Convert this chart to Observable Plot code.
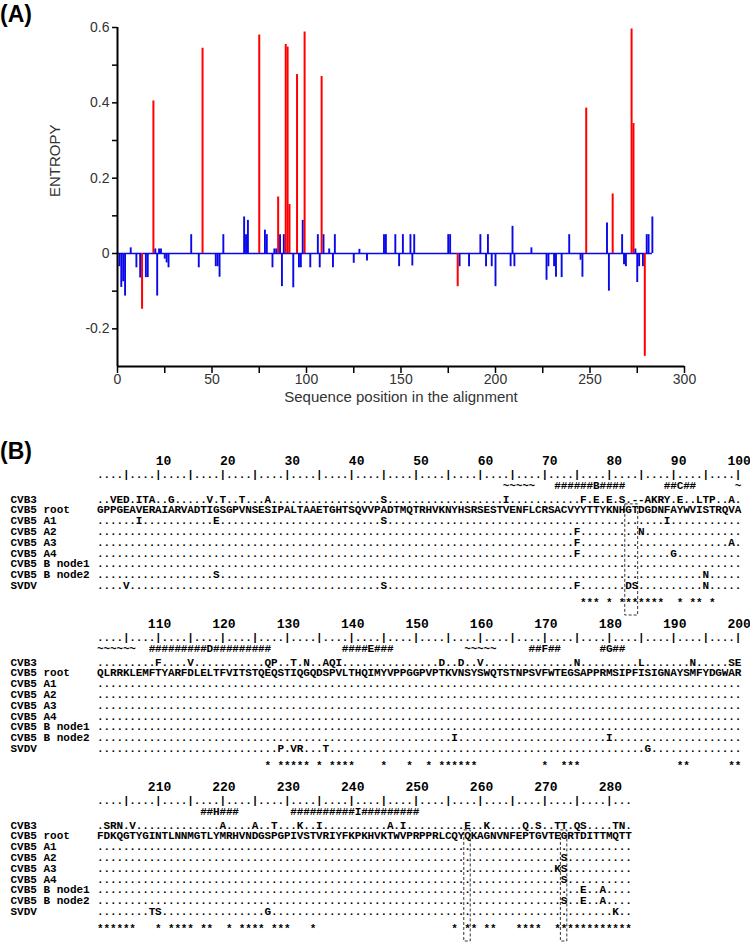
<!DOCTYPE html>
<html><head><meta charset="utf-8">
<script src="https://cdn.jsdelivr.net/npm/d3@7"></script>
<script src="https://cdn.jsdelivr.net/npm/@observablehq/plot@0.6"></script>
<style>
body{margin:0;background:#fff;}
#wrap{position:relative;width:750px;height:946px;overflow:hidden;background:#fff;}
#wrap svg{display:block;}
.panel{position:absolute;left:0;font-family:"Liberation Sans",Arial,sans-serif;font-weight:bold;font-size:23px;line-height:25px;color:#000;}
</style></head><body><div id="wrap"></div>
<script>
// ---------------- Panel A data ----------------
const seqLength = 283;
const xTickLabels = [0, 50, 100, 150, 200, 250, 300];
const xMinorTicks = [25, 75, 125, 175, 225, 275];
const yTickLabels = [-0.2, 0, 0.2, 0.4, 0.6];
const yMinorTicks = [-0.1, 0.1, 0.3, 0.5];

const bluePositions = [
  1, 2, 3, 4, 7, 10, 12, 15, 16, 20,
  21, 22, 23, 25, 26, 27, 39, 43, 52, 53,
  54, 56, 67, 68, 69, 78, 79, 82, 83, 84,
  86, 87, 88, 93, 96, 97, 98, 102, 106, 107,
  109, 112, 114, 115, 125, 128, 132, 141, 142, 147,
  149, 151, 155, 156, 157, 175, 176, 181, 186, 192,
  195, 196, 198, 200, 208, 209, 210, 219, 227, 228,
  231, 232, 235, 239, 245, 246, 259, 260, 267, 268,
  269, 274, 275, 276, 278, 280, 281, 283
];
const blueEntropy = [
  -0.035, -0.09, -0.075, -0.113, 0.015, -0.038, -0.065, -0.064, -0.064, 0.012,
  -0.113, 0.012, 0.012, -0.015, -0.025, -0.038, 0.05, -0.038, -0.035, -0.035,
  -0.063, 0.05, 0.097, 0.05, 0.088, 0.062, 0.05, -0.038, 0.012, 0.012,
  0.05, -0.088, 0.05, -0.091, -0.038, -0.038, 0.088, -0.038, 0.05, -0.038,
  0.05, 0.012, -0.038, 0.05, -0.026, 0.011, -0.02, 0.05, 0.05, 0.05,
  -0.035, 0.05, 0.05, -0.033, 0.05, 0.05, 0.05, -0.035, -0.035, 0.05,
  -0.035, 0.05, -0.035, -0.088, -0.035, 0.072, -0.035, 0.015, -0.071, -0.035,
  -0.035, -0.063, -0.064, 0.05, -0.018, -0.063, 0.081, -0.1, 0.05, -0.03,
  -0.035, 0.012, -0.077, -0.035, -0.035, 0.05, 0.05, 0.097
];
const redPositions = [13, 19, 45, 75, 85, 89, 90, 91, 95, 99, 108, 180, 248, 262, 272, 273, 279];
const redEntropy = [-0.148, 0.405, 0.545, 0.58, 0.15, 0.555, 0.548, 0.13, 0.475, 0.588, 0.47, -0.088, 0.386, 0.158, 0.596, 0.345, -0.273];

// ---------------- Panel B data ----------------
const sequenceNames = ["CVB3", "CVB5 root", "CVB5 A1", "CVB5 A2", "CVB5 A3", "CVB5 A4", "CVB5 B node1", "CVB5 B node2", "SVDV"];
const rootChunks = [
  "GPPGEAVERA","IARVADTIGS","GPVNSESIPA","LTAAETGHTS","QVVPADTMQT","RHVKNYHSRS","ESTVENFLCR","SACVYYTTYK","NHGTDGDNFA","YWVISTRQVA",
  "QLRRKLEMFT","YARFDLELTF","VITSTQEQST","IQGQDSPVLT","HQIMYVPPGG","PVPTKVNSYS","WQTSTNPSVF","WTEGSAPPRM","SIPFISIGNA","YSMFYDGWAR",
  "FDKQGTYGIN","TLNNMGTLYM","RHVNDGSPGP","IVSTVRIYFK","PKHVKTWVPR","PPRLCQYQKA","GNVNFEPTGV","TEGRTDITTM","QTT"
];
const cvb3Changes = [[3,"V"],[4,"E"],[5,"D"],[7,"I"],[8,"T"],[9,"A"],[12,"G"],[18,"V"],[20,"T"],[23,"T"],[27,"A"],[45,"S"],[64,"I"],
  [76,"F"],[78,"E"],[80,"E"],[82,"S"],[84,"-"],[85,"-"],[86,"A"],[87,"K"],[88,"R"],[89,"Y"],[91,"E"],[94,"L"],[95,"T"],[96,"P"],[99,"A"],
  [110,"F"],[115,"V"],[127,"Q"],[128,"P"],[131,"T"],[133,"N"],[136,"A"],[137,"Q"],[138,"I"],[154,"D"],[157,"D"],[160,"V"],[175,"N"],[185,"L"],[193,"N"],[199,"S"],[200,"E"],
  [202,"S"],[203,"R"],[204,"N"],[206,"V"],[220,"A"],[225,"A"],[228,"T"],[232,"K"],[235,"I"],[246,"A"],[248,"I"],[258,"E"],[261,"K"],[267,"Q"],[269,"S"],[272,"T"],[273,"T"],[275,"Q"],[276,"S"],[281,"T"],[282,"N"]];
const a1Changes = [[7,"I"],[19,"E"],[45,"S"],[89,"I"]];
const a2Changes = [[75,"F"],[85,"N"],[273,"S"]];
const a3Changes = [[75,"F"],[99,"A"],[272,"K"],[273,"S"]];
const a4Changes = [[75,"F"],[90,"G"],[273,"S"]];
const node1Changes = [[276,"E"],[279,"A"]];
const node2Changes = [[19,"S"],[95,"N"],[156,"I"],[180,"I"],[273,"S"],[276,"E"],[279,"A"]];
const svdvChanges = [[5,"V"],[45,"S"],[75,"F"],[83,"D"],[84,"S"],[95,"N"],[129,"P"],[131,"V"],[132,"R"],[136,"T"],[186,"G"],[209,"T"],[210,"S"],[227,"G"],[281,"K"]];
const secondaryStructure = [[64,"~~~~~"],[72,"######B####"],[89,"##C##"],[100,"~~~~~~~"],[109,"#########D#########"],[139,"####E###"],
  [158,"~~~~~"],[168,"##F##"],[179,"#G##"],[217,"##H###"],[231,"##########I#########"]];
const starPositions = [76,77,78,80,82,83,84,85,86,87,88,91,93,94,96,
  127,129,130,131,132,133,135,137,138,139,140,145,149,152,154,155,156,157,158,159,170,173,174,175,191,192,199,200,
  201,202,203,204,205,206,210,212,213,214,215,217,218,221,223,224,225,226,228,229,230,234,
  256,258,259,261,262,266,267,268,269,272,273,274,275,276,277,278,279,280,281,282,283];
const rulerLabels = [10,20,30,40,50,60,70,80,90,100,110,120,130,140,150,160,170,180,190,200,210,220,230,240,250,260,270,280];
const boxedSites = [[83,84],[258,258],[273,273]];

// ---------------- Panel A ----------------
const blueData = bluePositions.map((p, i) => ({pos: p, entropy: blueEntropy[i]}));
const redData = redPositions.map((p, i) => ({pos: p, entropy: redEntropy[i]}));
const BLUE = "#0808e8", RED = "#ff0000";
const HA = 410;

const plotA = Plot.plot({
  width: 750, height: HA,
  marginLeft: 117, marginRight: 66, marginTop: 27, marginBottom: HA - 366,
  style: {fontFamily: "'Liberation Sans', Arial, sans-serif", background: "white", overflow: "visible"},
  x: {domain: [0, 300]},
  y: {domain: [-0.3, 0.6]},
  marks: [
    Plot.ruleY([0], {x1: 0, x2: seqLength, stroke: BLUE, strokeWidth: 1.6}),
    Plot.ruleX(blueData, {x: "pos", y1: 0, y2: "entropy", stroke: BLUE, strokeWidth: 1.9}),
    Plot.ruleX(redData, {x: "pos", y1: 0, y2: "entropy", stroke: RED, strokeWidth: 2}),
    Plot.axisY({ticks: yTickLabels, tickFormat: d => d === 0 ? "0" : d.toFixed(1), tickSize: 5, tickPadding: 3, fontSize: 14, fill: "#333", stroke: "#000", strokeWidth: 1.5, label: null}),
    Plot.axisY({ticks: yMinorTicks, tickFormat: () => "", tickSize: 5, stroke: "#000", strokeWidth: 1.5, label: null}),
    Plot.axisX({ticks: xTickLabels, tickSize: 7, tickPadding: 1, fontSize: 14, fill: "#333", stroke: "#000", strokeWidth: 1.5, label: null}),
    Plot.axisX({ticks: xMinorTicks, tickFormat: () => "", tickSize: 7, stroke: "#000", strokeWidth: 1.5, label: null}),
    Plot.ruleX([0], {stroke: "#000", strokeWidth: 2}),
    Plot.ruleY([-0.3], {stroke: "#000", strokeWidth: 2}),
    Plot.text(["ENTROPY"], {text: d => d, frameAnchor: "left", rotate: -90, dx: -62, fontSize: 15, fill: "#333"}),
    Plot.text(["Sequence position in the alignment"], {text: d => d, frameAnchor: "bottom", dy: 35, fontSize: 15, fill: "#333"})
  ]
});

// ---------------- Panel B ----------------
const HB = 946 - HA;
const blockTop0 = 460 - HA, blockStep = 163;
const off = {numbers: 0, ruler: 13.5, sec: 24.5, seq0: 38.5, seqStep: 10.8, stars: 142, boxTop: 43.9, boxBottom: 155};
const blockOf = p => Math.floor((p - 1) / 100);
const colOf = p => p - 100 * blockOf(p);
const yAt = (b, o) => blockTop0 + b * blockStep + o;
const rootSequence = rootChunks.join("");
const changeSets = [cvb3Changes, null, a1Changes, a2Changes, a3Changes, a4Changes, node1Changes, node2Changes, svdvChanges];

const cells = [];
for (let p = 1; p <= seqLength; p++) {
  const b = blockOf(p), c = colOf(p);
  cells.push({col: c, y: yAt(b, off.ruler), ch: p % 5 === 0 ? "|" : "."});
  changeSets.forEach((cs, i) => {
    let ch;
    if (cs === null) ch = rootSequence[p - 1];
    else { const m = new Map(cs); ch = m.has(p) ? m.get(p) : "."; }
    cells.push({col: c, y: yAt(b, off.seq0 + off.seqStep * i), ch});
  });
}
for (const [start, str] of secondaryStructure) {
  [...str].forEach((ch, k) => {
    const p = start + k;
    cells.push({col: colOf(p), y: yAt(blockOf(p), off.sec), ch});
  });
}
for (const p of starPositions) cells.push({col: colOf(p), y: yAt(blockOf(p), off.stars), ch: "*"});

const numberCells = rulerLabels.map(n => ({x: colOf(n) + 2, y: yAt(blockOf(n), off.numbers), label: String(n)}));
const nameCells = [];
for (let b = 0; b < 3; b++) sequenceNames.forEach((name, i) => nameCells.push({name, y: yAt(b, off.seq0 + off.seqStep * i)}));
const boxCells = boxedSites.map(([a, z]) => ({
  x1: colOf(a) - 0.5, x2: colOf(z) + 0.5,
  y1: yAt(blockOf(a), off.boxTop), y2: yAt(blockOf(a), off.boxBottom)
}));

const plotB = Plot.plot({
  width: 750, height: HB,
  marginLeft: 96.7, marginRight: 9.3, marginTop: 0, marginBottom: 0,
  x: {domain: [0.5, 100.5], axis: null},
  y: {domain: [0, HB], range: [0, HB], axis: null},
  style: {fontFamily: "'Liberation Mono', 'DejaVu Sans Mono', monospace", background: "white", overflow: "visible"},
  marks: [
    Plot.rect(boxCells, {x1: "x1", x2: "x2", y1: "y1", y2: "y2", fill: "none", stroke: "#000", strokeWidth: 0.8, strokeDasharray: "3,2"}),
    Plot.text(cells, {x: "col", y: "y", text: "ch", fontSize: 11, fontWeight: "bold", fill: "#000"}),
    Plot.text(numberCells, {x: "x", y: "y", text: "label", textAnchor: "end", fontSize: 13, fontWeight: "bold", fill: "#000"}),
    Plot.text(nameCells, {frameAnchor: "left", dx: -86.7, y: "y", text: "name", textAnchor: "start", fontSize: 11, fontWeight: "bold", fill: "#000"})
  ]
});

const wrap = document.getElementById("wrap");
wrap.appendChild(plotA);
wrap.appendChild(plotB);
const la = document.createElement("div"); la.className = "panel"; la.style.top = "2px"; la.textContent = "(A)"; wrap.appendChild(la);
const lb = document.createElement("div"); lb.className = "panel"; lb.style.top = "439px"; lb.textContent = "(B)"; wrap.appendChild(lb);
</script></body></html>
